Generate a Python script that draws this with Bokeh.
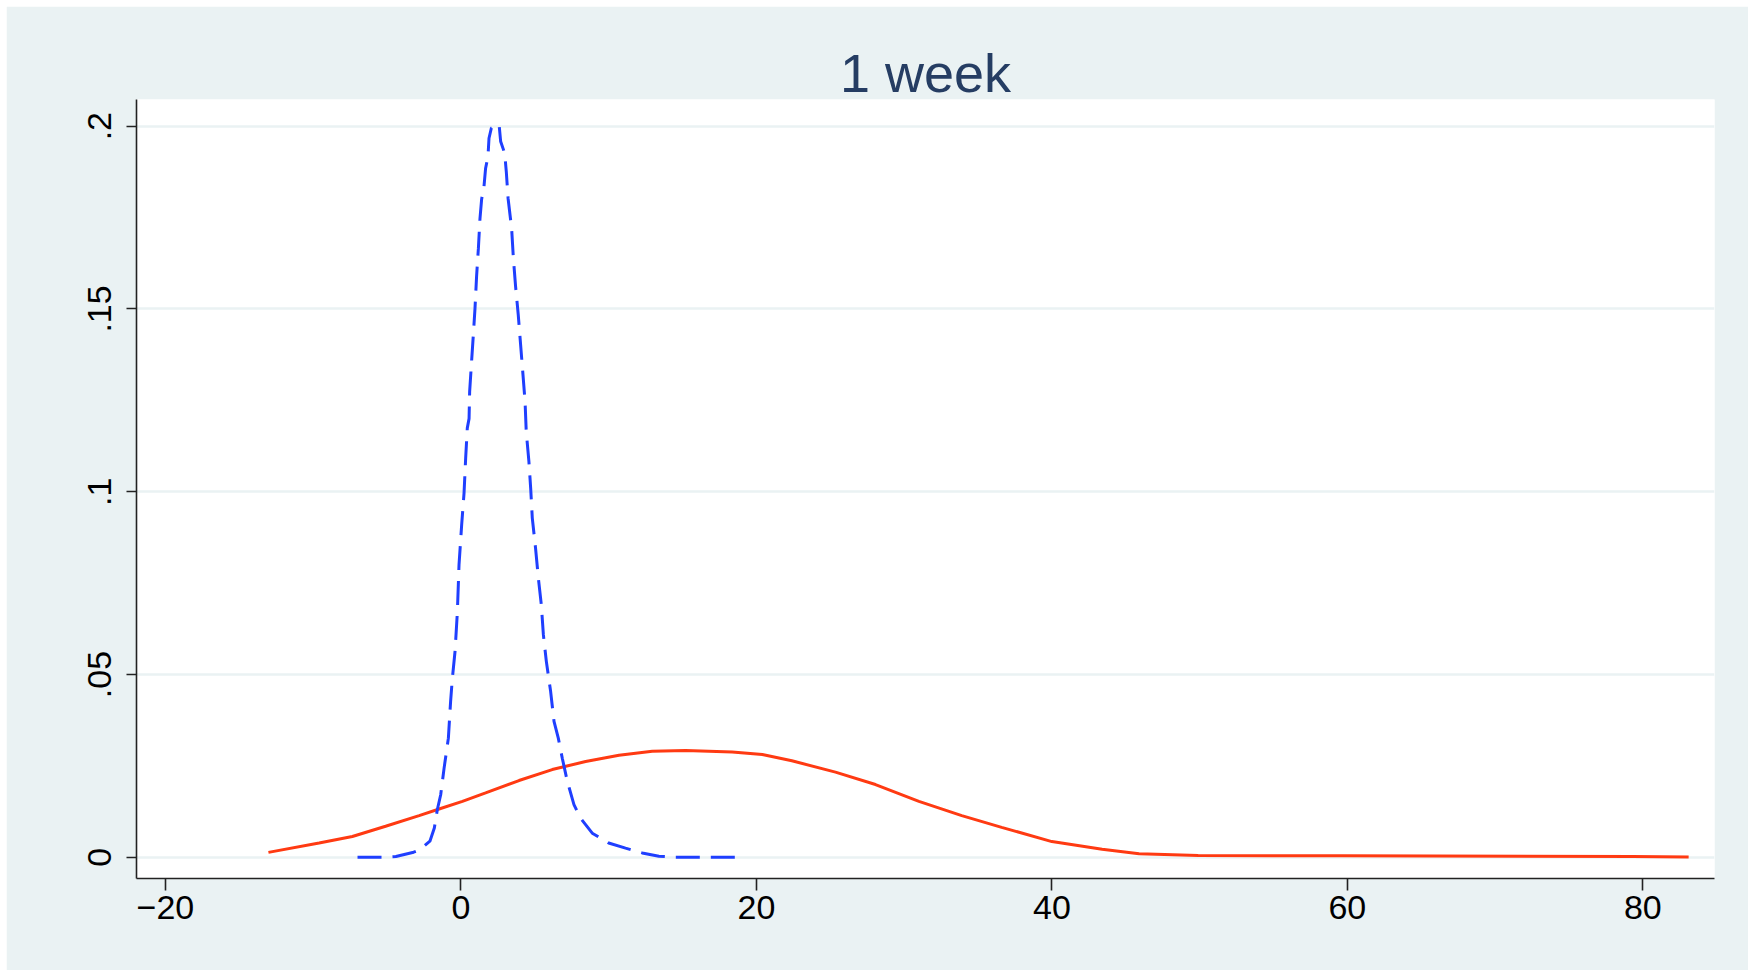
from bokeh.plotting import figure
from bokeh.models import FixedTicker
from bokeh.embed import file_html
from bokeh.resources import INLINE

# ---- data (kernel density curves) ----
blue_x = [-7.0, -5.3, -4.4, -3.2, -2.8, -2.1, -1.8, -1.6, -1.37, -1.14, -0.85, -0.70, -0.58,
          -0.40, -0.24, -0.13, 0.05, 0.21, 0.32, 0.43, 0.55, 0.59, 0.72, 0.84, 0.95, 1.06,
          1.18, 1.29, 1.40, 1.56, 1.67, 1.83, 1.90, 2.06, 2.58, 2.69, 2.96, 3.07, 3.19, 3.43,
          3.55, 3.70, 3.88, 4.04, 4.20, 4.34, 4.42, 4.60, 4.72, 4.83, 5.05, 5.24, 5.44, 5.58,
          5.78, 6.07, 6.30, 6.59, 6.86, 7.20, 7.65, 8.10, 8.89, 10.0, 11.14, 12.27, 13.4,
          14.5, 18.7]
blue_y = [0.0, 0.0, 0.0002, 0.0014, 0.0020, 0.0044, 0.0080, 0.0130, 0.0171, 0.0244, 0.0326,
          0.0426, 0.0490, 0.0563, 0.0672, 0.0800, 0.0910, 0.0996, 0.1092, 0.1174, 0.1200,
          0.1274, 0.1356, 0.1430, 0.1500, 0.1590, 0.1665, 0.1748, 0.1800, 0.1835, 0.1885,
          0.1917, 0.1967, 0.1995, 0.2005, 0.1958, 0.1926, 0.1876, 0.1803, 0.1721, 0.1639,
          0.1561, 0.1484, 0.1402, 0.1320, 0.1247, 0.1165, 0.1083, 0.1010, 0.0928, 0.0846,
          0.0764, 0.0691, 0.0609, 0.0536, 0.0454, 0.0372, 0.0326, 0.0271, 0.0208, 0.0144,
          0.0107, 0.0066, 0.0039, 0.0025, 0.0012, 0.0003, 0.0, 0.0]

red_x = [-13.03, -9.6, -7.35, -5.1, -2.83, -1.48, 0.1, 1.67, 3.93, 6.18, 8.44, 10.7, 12.95,
         15.2, 18.36, 20.4, 22.4, 25.35, 28.06, 31.0, 33.9, 36.6, 40.0, 43.4, 45.9, 49.9,
         59.7, 79.3, 83.1]
red_y = [0.00134, 0.0039, 0.0057, 0.0085, 0.0114, 0.0132, 0.0153, 0.0176, 0.0210, 0.0240,
         0.0262, 0.0279, 0.0290, 0.0292, 0.0288, 0.0281, 0.0264, 0.0233, 0.0199, 0.0153,
         0.0114, 0.0082, 0.0043, 0.0022, 0.0010, 0.0005, 0.0004, 0.0002, 0.0001]

x_ticks = [-20, 0, 20, 40, 60, 80]
x_tick_labels = ["\u221220", "0", "20", "40", "60", "80"]
y_ticks = [0, 0.05, 0.1, 0.15, 0.2]
y_tick_labels = ["0", ".05", ".1", ".15", ".2"]
title_text = "1 week"

PANEL = "#EAF2F3"
FONT = "Liberation Sans"

p = figure(width=1742, height=964, x_range=(-21.96, 84.85), y_range=(-0.0058, 0.2073),
           output_backend="svg", toolbar_location=None,
           min_border_left=130, min_border_right=34, min_border_top=93, min_border_bottom=92)
p.margin = (6, 0, 0, 6)
p.background_fill_color = "white"
p.border_fill_color = PANEL
p.outline_line_color = None

p.title.text = title_text
p.title.align = "center"
p.title.text_font = FONT
p.title.text_font_size = "54px"
p.title.text_font_style = "normal"
p.title.text_color = "#253d63"
p.title.text_line_height = 1.0
p.title.standoff = -6

# grids
p.xgrid.grid_line_color = None
p.ygrid.grid_line_color = PANEL
p.ygrid.grid_line_width = 2.5

# axes
for ax in (p.xaxis, p.yaxis):
    ax.axis_line_color = "#222222"
    ax.axis_line_width = 1.6
    ax.major_tick_line_color = "#222222"
    ax.major_tick_line_width = 1.6
    ax.major_tick_in = 0
    ax.minor_tick_line_color = None
    ax.major_label_text_font = FONT
    ax.major_label_text_font_size = "34px"
    ax.major_label_text_color = "black"

p.xaxis.ticker = FixedTicker(ticks=x_ticks)
p.xaxis.major_label_overrides = dict(zip(x_ticks, x_tick_labels))
p.xaxis.major_tick_out = 12
p.xaxis.major_label_standoff = 5

p.yaxis.ticker = FixedTicker(ticks=y_ticks)
p.yaxis.major_label_overrides = dict(zip(y_ticks, y_tick_labels))
p.yaxis.major_tick_out = 10
p.yaxis.major_label_orientation = "vertical"
p.yaxis.major_label_standoff = 15
p.ygrid.ticker = FixedTicker(ticks=y_ticks)

# curves
p.line(red_x, red_y, line_color="#ff3a12", line_width=3)
p.line(blue_x, blue_y, line_color="#1f3fff", line_width=3, line_dash="24 11")

open("out.html", "w").write(file_html(p, INLINE))
